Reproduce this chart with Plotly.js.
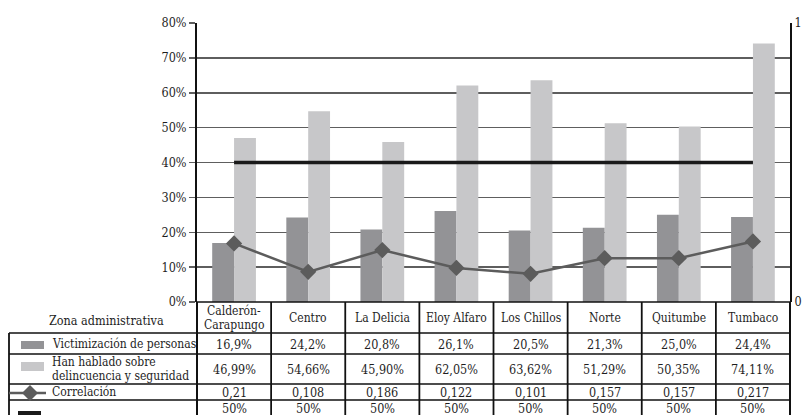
<!DOCTYPE html>
<html>
<head>
<meta charset="utf-8">
<script src="https://cdn.plot.ly/plotly-3.0.1.min.js"></script>
<style>
  html, body { margin: 0; padding: 0; background: #fff; }
  #chart { width: 802px; height: 415px; }
</style>
</head>
<body>
<div id="chart"></div>
<script>
// Zonas administrativas and their indicators
const zonas = ['Calderón-Carapungo', 'Centro', 'La Delicia', 'Eloy Alfaro', 'Los Chillos', 'Norte', 'Quitumbe', 'Tumbaco'];
const victimizacion = [16.9, 24.2, 20.8, 26.1, 20.5, 21.3, 25.0, 24.4];          // %
const hablado = [46.99, 54.66, 45.90, 62.05, 63.62, 51.29, 50.35, 74.11];       // %
const correlacion = [0.21, 0.108, 0.186, 0.122, 0.101, 0.157, 0.157, 0.217];
const referencia = [50, 50, 50, 50, 50, 50, 50, 50];                            // %
const yTicks = [0, 10, 20, 30, 40, 50, 60, 70, 80];
const yTickText = yTicks.map(v => v + '%');
const y2Ticks = [0, 1];
const rowLabels = ['Zona administrativa', 'Victimización de personas', 'Han hablado sobre\ndelincuencia y seguridad', 'Correlación', ''];

// Page geometry (pixels)
const W = 802, H = 415;
const M = { l: 197, r: 12, t: 23, b: 113 };
const plotW = W - M.l - M.r, plotH = H - M.t - M.b;
const px = x => (x - M.l) / plotW;
const py = y => (H - M.b - y) / plotH;

const FONT = 'DejaVu Serif Condensed, DejaVu Serif';
const INK = '#1e1e1e';
const DARK = '#939396', LIGHT = '#c7c7c9', CORR = '#5c5c5c', REF = '#1a1a1a';

const comma = s => String(s).replace('.', ',');
const pct = (v, d) => comma(v.toFixed(d)) + '%';

// Table rows: top/bottom edges and the text for each cell
const rowEdges = [302, 333, 354, 384, 400, 416];
const rowCenters = [318, 344, 369, 392, 408];
const rowValues = [
  null,
  victimizacion.map(v => pct(v, 1)),
  hablado.map(v => pct(v, 2)),
  correlacion.map(v => comma(v)),
  referencia.map(v => v + '%')
];

const annotations = [];
function addLines(x, xref, yc, lines, lh, xanchor, size) {
  lines.forEach((ln, i) => {
    const y = yc + (i - (lines.length - 1) / 2) * lh;
    annotations.push({
      x, xref, y: py(y), yref: 'paper', text: ln, showarrow: false,
      xanchor, yanchor: 'middle', font: { family: FONT, size: size || 12, color: INK }
    });
  });
}

// header: zone names (split after hyphen onto two lines)
zonas.forEach(z => addLines(z, 'x', rowCenters[0], z.split(/(?<=-)/), 13.5, 'center', 12));
// row labels
addLines(px(106), 'paper', rowCenters[0] + 2, [rowLabels[0]], 13, 'center', 12.5);
for (let r = 1; r < rowLabels.length; r++) {
  if (rowLabels[r]) addLines(px(50), 'paper', rowCenters[r], rowLabels[r].split('\n'), 13.5, 'left', 12);
}
// cell values
for (let r = 1; r < rowValues.length; r++) {
  rowValues[r].forEach((t, i) => addLines(zonas[i], 'x', rowCenters[r], [t], 13, 'center', 12.5));
}

// table grid
const shapes = [];
const hline = (x0, x1, y, w) => shapes.push({ type: 'line', xref: 'paper', yref: 'paper', x0, x1, y0: py(y), y1: py(y), line: { color: '#111', width: w }, layer: 'above' });
const vline = (x, xref, y0, y1, w) => shapes.push({ type: 'line', xref, yref: 'paper', x0: x, x1: x, y0: py(y0), y1: py(y1), line: { color: '#111', width: w }, layer: 'above' });

hline(0, 1, rowEdges[0], 1.6);
for (let r = 1; r < rowEdges.length - 1; r++) hline(px(9), 1, rowEdges[r], 1.5);
vline(0, 'paper', rowEdges[0], H + 1, 2);
vline(1, 'paper', rowEdges[0], H + 1, 2);
vline(px(9), 'paper', rowEdges[1], H + 1, 1.8);
for (let i = 1; i < zonas.length; i++) vline(i - 0.5, 'x', rowEdges[0], H + 1, 1.8);

// legend keys inside the table
const rect = (x0, x1, y0, y1, color) => shapes.push({ type: 'rect', xref: 'paper', yref: 'paper', x0: px(x0), x1: px(x1), y0: py(y0), y1: py(y1), fillcolor: color, line: { width: 0 }, layer: 'above' });
rect(21, 44, 341, 349, DARK);
rect(21, 44, 362, 371, LIGHT);
rect(18, 41, 411, 416, REF);
shapes.push({ type: 'line', xref: 'paper', yref: 'paper', x0: px(9), x1: px(46), y0: py(393), y1: py(393), line: { color: CORR, width: 2.5 }, layer: 'above' });
shapes.push({
  type: 'path', xref: 'paper', yref: 'paper', layer: 'above',
  path: `M ${px(22)},${py(393)} L ${px(30)},${py(385)} L ${px(38)},${py(393)} L ${px(30)},${py(401)} Z`,
  fillcolor: CORR, line: { width: 0 }
});

const traces = [
  { type: 'bar', name: 'Victimización de personas', x: zonas, y: victimizacion, marker: { color: DARK }, hoverinfo: 'skip' },
  { type: 'bar', name: 'Han hablado sobre delincuencia y seguridad', x: zonas, y: hablado, marker: { color: LIGHT }, hoverinfo: 'skip' },
  { type: 'scatter', name: 'Referencia', x: zonas, y: referencia.map(v => v / 100), yaxis: 'y2', mode: 'lines', line: { color: REF, width: 3.5 }, hoverinfo: 'skip' },
  { type: 'scatter', name: 'Correlación', x: zonas, y: correlacion, yaxis: 'y2', mode: 'lines+markers',
    line: { color: CORR, width: 2.5 }, marker: { symbol: 'diamond', size: 12.5, color: CORR }, hoverinfo: 'skip' }
];

const layout = {
  width: W, height: H,
  margin: M,
  paper_bgcolor: '#fff', plot_bgcolor: '#fff',
  showlegend: false,
  barmode: 'group', bargap: 0.41, bargroupgap: 0,
  font: { family: FONT, color: INK, size: 12 },
  xaxis: { type: 'category', range: [-0.5, zonas.length - 0.5], showticklabels: false, showgrid: false, zeroline: false, showline: false, ticks: '', fixedrange: true },
  yaxis: {
    range: [0, 80], tickmode: 'array', tickvals: yTicks, ticktext: yTickText,
    showgrid: true, gridcolor: '#5e5e5e', gridwidth: 1.5,
    ticks: 'outside', ticklen: 6, tickwidth: 1.5, tickcolor: '#5e5e5e',
    showline: true, linecolor: '#111', linewidth: 2, zeroline: false,
    tickfont: { family: FONT, size: 12.5, color: INK }, fixedrange: true
  },
  yaxis2: {
    overlaying: 'y', side: 'right', range: [0, 1], tickmode: 'array', tickvals: y2Ticks, ticktext: y2Ticks.map(String),
    showgrid: false, zeroline: false, showline: true, linecolor: '#111', linewidth: 2,
    ticks: '', tickfont: { family: FONT, size: 12.5, color: INK }, fixedrange: true
  },
  shapes, annotations
};

Plotly.newPlot('chart', traces, layout, { staticPlot: true, displayModeBar: false });
</script>
</body>
</html>
